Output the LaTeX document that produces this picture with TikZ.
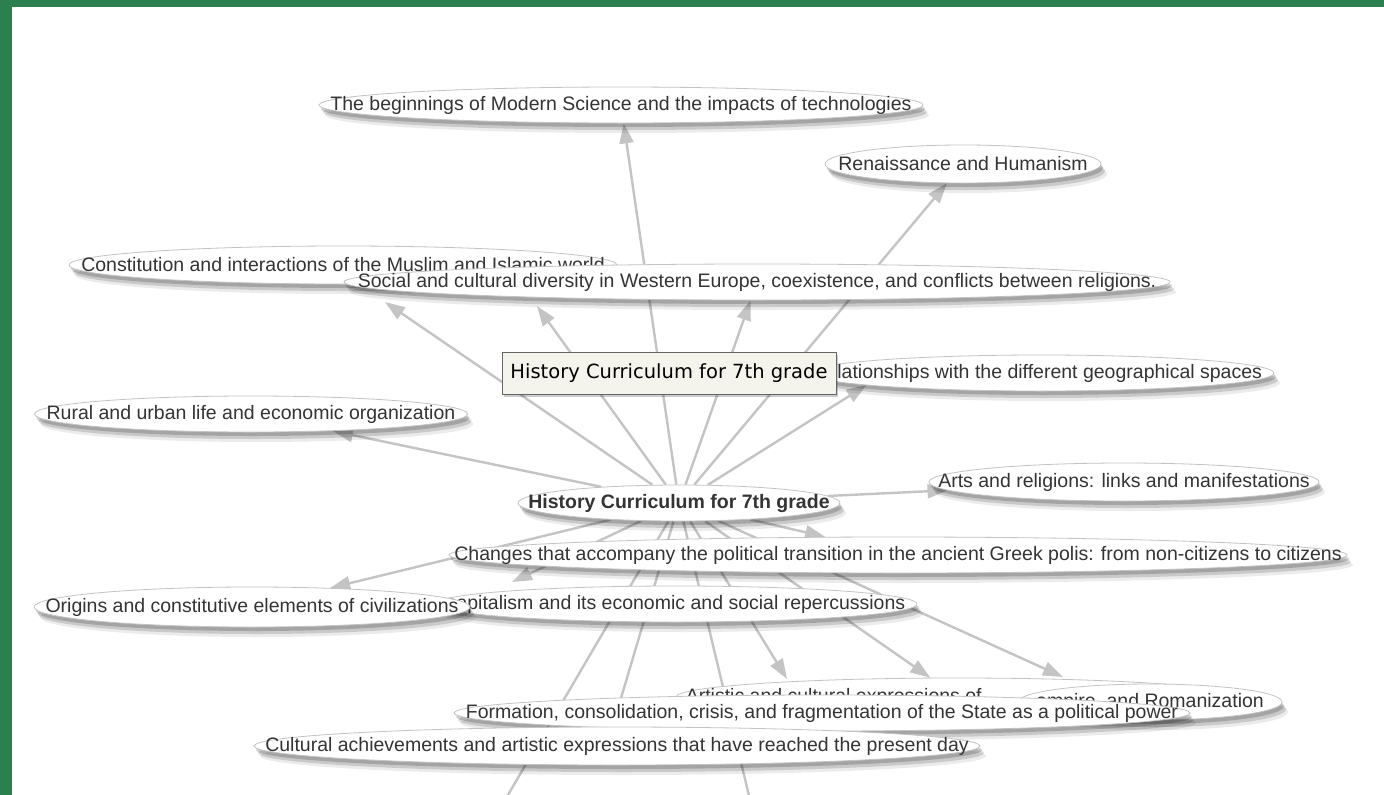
\documentclass[tikz,border=0pt]{standalone}
\usepackage{fontspec}
\newfontfamily\arialfont{Liberation Sans}
\newfontfamily\tipfont{DejaVu Sans}
\usetikzlibrary{shapes.geometric,arrows.meta,shadows}
\definecolor{edgegray}{RGB}{196,196,196}
\definecolor{txtgray}{RGB}{52,52,52}
\definecolor{rimgray}{RGB}{195,195,195}
\definecolor{tipfill}{RGB}{245,244,236}
\definecolor{framegreen}{RGB}{44,128,80}
\pgfdeclarelayer{bg}
\pgfsetlayers{bg,main}
\tikzset{
  topic/.style={ellipse, draw=rimgray, line width=.8pt, fill=white, inner sep=0pt, minimum height=36pt,
    drop shadow={shadow xshift=6pt, shadow yshift=-10pt, opacity=.08, fill=black},
    drop shadow={shadow xshift=4pt, shadow yshift=-7pt, opacity=.14, fill=black},
    drop shadow={shadow xshift=2pt, shadow yshift=-4pt, opacity=.18, fill=black}},
  every label/.style={font=\arialfont\fontsize{19.5}{23}\selectfont, text=txtgray, inner sep=0pt},
  link/.style={draw=edgegray, line width=2.4pt, -{Triangle[length=20pt,width=14pt]}},
  bare/.style={draw=edgegray, line width=2.4pt},
  tipbox/.style={draw=gray!80!black, fill=tipfill, line width=.8pt, inner sep=0pt,
    minimum width=334pt, minimum height=42pt, font=\tipfont\fontsize{19.5}{23}\selectfont,
    drop shadow={shadow xshift=2pt, shadow yshift=-3pt, opacity=.2, fill=black}}
}
\begin{document}
\begin{tikzpicture}[x=1pt,y=-1pt]
                                    \useasboundingbox (0,0) rectangle (1384,795);

% topics
                                    \node[topic, minimum width=604pt, label=center:{The beginnings of Modern Science and the impacts of technologies}] (sci) at (621,105) {};
                                    \node[topic, minimum width=276pt, minimum height=38pt, label=center:{Renaissance and Humanism}] (ren) at (963,164) {};
                                    \node[topic, minimum width=548pt, minimum height=38pt, label=center:{Constitution and interactions of the Muslim and Islamic world}] (mus) at (343,265) {};
                                    \node[topic, minimum width=826pt, label=center:{Social and cultural diversity in Western Europe, coexistence, and conflicts between religions.}] (soc) at (757,282) {};
                                    \node[topic, minimum width=466pt, label=center:{relationships with the different geographical spaces}] (geo) at (1041,373) {};
                                    \node[topic, minimum width=433pt, label=center:{Rural and urban life and economic organization}] (rur) at (251,414) {};
                                    \node[topic, minimum width=322pt, label={[font=\arialfont\bfseries\fontsize{19.5}{23}\selectfont]center:{History Curriculum for 7th grade}}] (hist) at (679,503) {};
                                    \node[topic, minimum width=390pt, minimum height=38pt, label=center:{Arts and religions: links and manifestations}] (arts) at (1124,482) {};
                                    \node[topic, minimum width=898pt, label=center:{Changes that accompany the political transition in the ancient Greek polis: from non-citizens to citizens}] (polis) at (898,555) {};
                                    \node[topic, minimum width=482pt, label=center:{capitalism and its economic and social repercussions}] (capi) at (676,604) {};
                                    \node[topic, minimum width=436pt, minimum height=40pt, label=center:{Origins and constitutive elements of civilizations}] (orig) at (252,607) {};
                                    \node[topic, minimum width=564pt, minimum height=38pt, label={[anchor=west, xshift=10pt]west:{Artistic and cultural expressions of}}] (artx) at (958,697) {};
                                    \node[topic, minimum width=264pt, label=center:{empire, and Romanization}] (roma) at (1150,702) {};
                                    \node[topic, minimum width=736pt, label=center:{Formation, consolidation, crisis, and fragmentation of the State as a political power}] (state) at (822,713) {};
                                    \node[topic, minimum width=726pt, minimum height=38pt, label=center:{Cultural achievements and artistic expressions that have reached the present day}] (achv) at (617,746) {};

% hidden ends
                                    \coordinate (h1) at (385,302);
                                    \coordinate (h2) at (537,306);
                                    \coordinate (h3) at (512,582);
                                    \coordinate (h4) at (787,679);
                                    \coordinate (h5) at (1063,677);
                                    \coordinate (h6) at (505,800);
                                    \coordinate (h7) at (750,800);
                                    \coordinate (h8) at (610,735);

% frame and links
                                    \begin{pgfonlayer}{bg}
                                    \fill[white] (0,0) rectangle (1384,795);
                                    \fill[framegreen] (0,0) rectangle (12,795);
                                    \fill[framegreen] (0,0) rectangle (1384,7);
                                    \foreach \t in {sci,ren,h1,h2,soc,geo.184,rur,arts,polis.166,h3,orig,h4,artx,h5}
                                        \draw[link] (hist) -- (\t);
                                    \foreach \t in {h6,h7,h8}
                                        \draw[bare] (hist) -- (\t);
                                    \end{pgfonlayer}

% tooltip
                                    \node[tipbox] (tip) at (669,373) {History Curriculum for 7th grade};
                                \end{tikzpicture}
\end{document}
